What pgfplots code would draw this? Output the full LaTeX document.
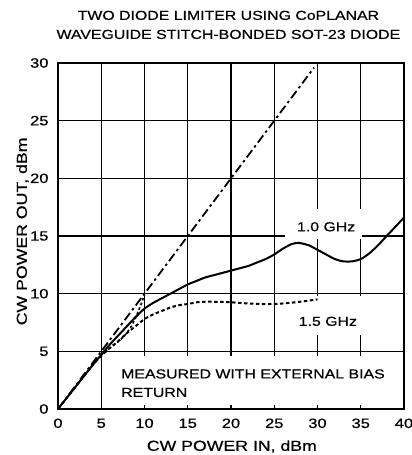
\documentclass[border=0pt]{standalone}
\usepackage{fontspec}
\setmainfont{Liberation Sans}[FakeStretch=1.22, FakeBold=0.6]
\usepackage{pgfplots}
\pgfplotsset{compat=1.18}
\begin{document}
\begin{tikzpicture}
\begin{axis}[
  at={(0,0)}, anchor=south west,
  scale only axis, width=346pt, height=346pt,
  xmin=0, xmax=40, ymin=0, ymax=30,
  xtick={0,5,...,40}, ytick={0,5,...,30},
  grid=major,
  major grid style={black, line width=1.3pt},
  axis line style={black, line width=1.8pt},
  tick style={draw=none},
  /pgf/number format/assume math mode=true,
  ticklabel style={font=\fontsize{13.5}{14}\selectfont},
  xticklabel style={yshift=-6pt},
  yticklabel style={xshift=-6pt},
  clip=false,
]
% annotation backgrounds (cover grid lines)
\fill[white] (axis cs:6.7,0.35) rectangle (axis cs:37.6,4.6);
\fill[white] (axis cs:26.2,14.7) rectangle (axis cs:35.2,17.3);
\fill[white] (axis cs:29.6,6.4) rectangle (axis cs:36.2,9.8);

% reference lines
\addplot[black, line width=1.8pt, dash pattern=on 9pt off 3.5pt on 2.5pt off 3.5pt] coordinates {(0,0) (29.6,29.6)};
\addplot[black, line width=1.6pt, dash pattern=on 9pt off 3.5pt on 2.5pt off 3pt on 2.5pt off 3.5pt] coordinates {(0,20) (40,20)};
\addplot[black, line width=1.6pt, dash pattern=on 2.5pt off 2.5pt, smooth] coordinates {(5,4.7) (6.2,5.4) (7.5,6.2) (8.5,7.2) (9.3,8.5) (10,9.9)};

% 1.0 GHz
\addplot[black, line width=2pt, smooth] coordinates {
(0,0) (2,1.9) (4,3.8) (5,4.7) (6,5.6) (7,6.4) (8,7.2) (9,8.0) (10,8.7)
(11,9.2) (12,9.6) (13,10.0) (14,10.4) (15,10.8) (16,11.1) (17,11.4) (18,11.6)
(19,11.8) (20,12.0) (21,12.2) (22,12.4) (23,12.7) (24,13.0) (25,13.4) (26,13.9)
(27,14.3) (27.8,14.4) (28.5,14.3) (29,14.2) (30,13.8) (31,13.4) (32,13.0)
(33,12.8) (34,12.8) (35,13.0) (36,13.5) (37,14.2) (38,15.0) (39,15.8) (40,16.6)};

% 1.5 GHz
\addplot[black, line width=2pt, dash pattern=on 3.5pt off 2.5pt, smooth] coordinates {
(0,0) (2,1.9) (4,3.8) (5,4.6) (6,5.3) (7,5.9) (8,6.6) (9,7.2) (10,7.8)
(11,8.2) (12,8.5) (13,8.8) (14,9.0) (15,9.1) (16,9.25) (17,9.3) (18,9.3)
(20,9.25) (22,9.15) (24,9.1) (26,9.15) (28,9.3) (30,9.5)};

\node[font=\fontsize{13}{14}\selectfont] at (axis cs:31.0,15.8) {1.0 GHz};
\node[font=\fontsize{13}{14}\selectfont] at (axis cs:31.2,7.6) {1.5 GHz};
\node[font=\fontsize{13}{14}\selectfont, anchor=west] at (axis cs:6.9,3.04) {MEASURED WITH EXTERNAL BIAS};
\node[font=\fontsize{13}{14}\selectfont, anchor=west] at (axis cs:6.9,1.43) {RETURN};

% titles and labels
\node[font=\fontsize{13}{14}\selectfont, anchor=base] at (axis cs:19.7,33.74) {TWO DIODE LIMITER USING CoPLANAR};
\node[font=\fontsize{13}{14}\selectfont, anchor=base] at (axis cs:19.7,32.09) {WAVEGUIDE STITCH-BONDED SOT-23 DIODE};
\node[font=\fontsize{14.5}{15}\selectfont] at (axis cs:20.1,-3.25) {CW POWER IN, dBm};
\node[font=\fontsize{14.5}{15}\selectfont, rotate=90] at (axis cs:-4.1,15.4) {CW POWER OUT, dBm};
\end{axis}
\pgfresetboundingbox
\path[use as bounding box] (-58pt,-46pt) rectangle (354pt,409pt);
\end{tikzpicture}
\end{document}
